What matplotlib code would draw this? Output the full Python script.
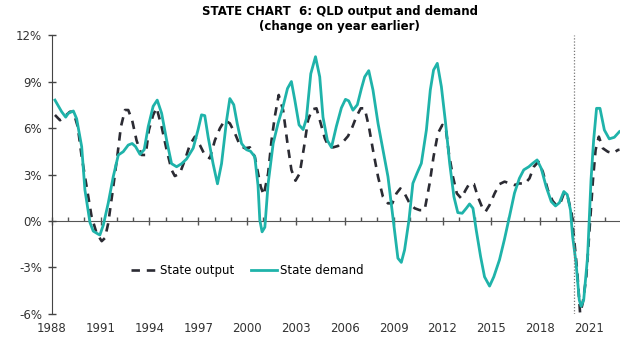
import matplotlib
matplotlib.use("Agg")
import matplotlib.pyplot as plt
import numpy as np

# QLD state final demand, % change on year earlier
demand_year = [1988.20, 1988.61, 1988.86, 1989.02, 1989.33, 1989.53, 1989.84, 1990.04, 1990.35, 1990.55,
               1990.86, 1990.96, 1991.17, 1991.47, 1991.78, 1992.09, 1992.39, 1992.70, 1992.94, 1993.15,
               1993.42, 1993.68, 1993.93, 1994.23, 1994.48, 1994.75, 1995.06, 1995.36, 1995.67, 1995.98,
               1996.28, 1996.69, 1996.99, 1997.20, 1997.40, 1997.61, 1997.91, 1998.18, 1998.43, 1998.74,
               1998.94, 1999.18, 1999.39, 1999.66, 1999.96, 2000.21, 2000.47, 2000.67, 2000.78, 2000.92,
               2001.09, 2001.29, 2001.60, 2001.90, 2002.21, 2002.48, 2002.72, 2002.93, 2003.19, 2003.44,
               2003.64, 2003.91, 2004.20, 2004.46, 2004.66, 2004.93, 2005.18, 2005.48, 2005.79, 2006.04,
               2006.24, 2006.50, 2006.77, 2007.02, 2007.22, 2007.47, 2007.73, 2008.04, 2008.34, 2008.65,
               2008.90, 2009.12, 2009.26, 2009.47, 2009.67, 2009.94, 2010.18, 2010.43, 2010.70, 2011.01,
               2011.25, 2011.45, 2011.68, 2011.93, 2012.19, 2012.44, 2012.70, 2012.94, 2013.21, 2013.46,
               2013.66, 2013.87, 2014.07, 2014.34, 2014.58, 2014.89, 2015.15, 2015.50, 2015.80, 2016.11,
               2016.42, 2016.72, 2016.99, 2017.30, 2017.54, 2017.81, 2018.06, 2018.37, 2018.68, 2018.94,
               2019.18, 2019.45, 2019.66, 2019.86, 2019.99, 2020.20, 2020.40, 2020.51, 2020.67, 2020.91,
               2021.12, 2021.28, 2021.46, 2021.67, 2021.94, 2022.24, 2022.55, 2022.86]
demand = [7.8, 7.05, 6.7, 6.95, 7.1, 6.6, 4.8, 2.0, -0.1, -0.65,
          -0.85, -0.9, -0.26, 1.15, 2.86, 4.26, 4.47, 4.9, 5.0, 4.8,
          4.3, 4.6, 6.1, 7.4, 7.8, 6.95, 5.2, 3.7, 3.5, 3.7,
          4.0, 4.7, 5.9, 6.85, 6.8, 5.4, 3.7, 2.4, 3.7, 6.5,
          7.9, 7.5, 6.3, 5.0, 4.6, 4.5, 4.15, 2.3, 0.06, -0.7,
          -0.4, 2.4, 5.0, 6.3, 7.4, 8.55, 9.0, 7.8, 6.2, 5.9,
          6.6, 9.5, 10.6, 9.3, 6.7, 5.2, 4.75, 6.1, 7.3, 7.85,
          7.75, 7.15, 7.5, 8.55, 9.3, 9.7, 8.45, 6.3, 4.6, 2.86,
          0.7, -1.2, -2.4, -2.67, -1.87, 0.06, 2.43, 3.07, 3.72, 5.87,
          8.45, 9.74, 10.17, 8.67, 6.3, 3.72, 1.57, 0.54, 0.5, 0.82,
          1.1, 0.82, -0.58, -2.3, -3.6, -4.2, -3.6, -2.5, -1.2, 0.28,
          1.8, 2.75, 3.3, 3.5, 3.72, 3.94, 3.4, 2.2, 1.25, 0.97,
          1.18, 1.9, 1.7, 0.7, -1.0, -2.7, -5.1, -5.5, -5.1, -2.3,
          2.65, 5.2, 7.27, 7.27, 5.87, 5.3, 5.4, 5.76]

# QLD gross state product, % change on year earlier
output_year = [1988.20, 1988.51, 1988.82, 1989.12, 1989.33, 1989.60, 1989.84, 1990.15, 1990.45, 1990.76,
               1991.07, 1991.27, 1991.47, 1991.78, 1992.05, 1992.25, 1992.50, 1992.70, 1992.94, 1993.21,
               1993.52, 1993.77, 1993.97, 1994.23, 1994.44, 1994.75, 1995.06, 1995.36, 1995.56, 1995.87,
               1996.18, 1996.48, 1996.79, 1997.10, 1997.40, 1997.71, 1998.02, 1998.33, 1998.63, 1998.94,
               1999.25, 1999.55, 1999.86, 2000.17, 2000.47, 2000.69, 2000.84, 2001.02, 2001.29, 2001.50,
               2001.70, 2001.94, 2002.21, 2002.48, 2002.72, 2002.97, 2003.23, 2003.50, 2003.74, 2003.99,
               2004.26, 2004.52, 2004.77, 2005.01, 2005.28, 2005.58, 2005.89, 2006.20, 2006.47, 2006.71,
               2006.98, 2007.22, 2007.48, 2007.73, 2008.04, 2008.34, 2008.65, 2008.92, 2009.17, 2009.41,
               2009.67, 2009.98, 2010.29, 2010.60, 2010.90, 2011.21, 2011.45, 2011.72, 2011.99, 2012.19,
               2012.39, 2012.64, 2012.88, 2013.15, 2013.42, 2013.66, 2013.93, 2014.17, 2014.42, 2014.64,
               2014.89, 2015.20, 2015.50, 2015.81, 2016.12, 2016.42, 2016.73, 2017.04, 2017.34, 2017.61,
               2017.89, 2018.16, 2018.47, 2018.76, 2019.00, 2019.25, 2019.46, 2019.68, 2019.93, 2020.27,
               2020.45, 2020.61, 2020.83, 2021.03, 2021.24, 2021.40, 2021.60, 2021.85, 2022.15, 2022.46,
               2022.77, 2022.87]
output = [6.84, 6.5, 6.77, 7.05, 7.05, 6.08, 4.15, 2.2, 0.28, -0.8,
          -1.3, -1.1, -0.15, 2.2, 4.37, 6.08, 7.16, 7.16, 6.5, 5.2,
          4.26, 4.26, 5.87, 6.84, 7.3, 6.08, 4.58, 3.3, 2.9, 3.07,
          3.94, 4.9, 5.44, 4.9, 4.26, 4.04, 5.2, 5.98, 6.5, 6.3,
          5.66, 4.9, 4.69, 4.75, 4.15, 3.0, 2.2, 1.68, 3.07, 5.2,
          6.73, 8.13, 7.16, 5.0, 3.3, 2.6, 3.07, 4.8, 6.5, 7.2,
          7.27, 6.3, 5.34, 4.8, 4.75, 4.84, 5.1, 5.48, 6.08, 6.73,
          7.27, 7.27, 6.08, 4.58, 2.86, 1.57, 1.14, 1.14, 1.78, 2.1,
          1.78, 1.14, 0.82, 0.7, 0.7, 2.43, 4.15, 5.66, 6.2, 6.08,
          4.37, 2.86, 1.78, 1.46, 2.0, 2.43, 2.38, 1.57, 0.92, 0.6,
          1.03, 1.78, 2.38, 2.54, 2.43, 2.32, 2.43, 2.38, 2.75, 3.5,
          3.83, 3.18, 2.0, 1.3, 1.0, 1.2, 1.8, 1.6, 0.5, -3.2,
          -5.96, -5.3, -3.6, -0.6, 2.65, 4.58, 5.44, 4.69, 4.47, 4.37,
          4.58, 4.6]

year_ticks = np.arange(1988, 2022, 3)
pct_ticks = [-6, -3, 0, 3, 6, 9, 12]
covid_line = 2020.1

fig = plt.figure(figsize=(6.2, 3.49), dpi=100)
ax = fig.add_axes([0.0834, 0.1003, 0.9166, 0.7994])

ax.plot(output_year, output, color='#2b2b33', lw=1.9, dashes=(3.2, 2.6), label='State output')
ax.plot(demand_year, demand, color='#1fb3aa', lw=2, label='State demand')
ax.axvline(covid_line, color='#777777', lw=0.9, ls=(0, (1, 1.5)))

ax.set_xlim(1988, 2022.9)
ax.set_ylim(-6, 12)
ax.set_yticks(pct_ticks)
ax.set_yticklabels([f'{v}%' for v in pct_ticks], fontsize=8.5, color='#333333')
ax.tick_params(axis='y', direction='inout', length=6, width=1, color='#444444', pad=4)

ax.set_xticks(year_ticks)
ax.set_xticklabels([str(y) for y in year_ticks], fontsize=8.5, color='#333333')
ax.tick_params(axis='x', length=0, pad=6)

for s in ['top', 'right', 'bottom']:
    ax.spines[s].set_visible(False)
ax.spines['left'].set_color('#444444')

# zero line carrying the year ticks
zero_ax = ax.secondary_xaxis(1 / 3)
zero_ax.set_xticks(year_ticks)
zero_ax.set_xticks(np.arange(1989, 2023, 1), minor=True)
zero_ax.set_xticklabels([])
zero_ax.tick_params(which='major', direction='inout', length=6, width=1, color='#555555')
zero_ax.tick_params(which='minor', direction='in', length=3, width=1, color='#555555')
zero_ax.spines['bottom'].set_color('#555555')

ax.legend(loc='lower left', bbox_to_anchor=(0.12, 0.095), ncol=2, frameon=False,
          fontsize=8.5, handlelength=2.2, columnspacing=1.4, handletextpad=0.3)

fig.text(0.548, 0.985, 'STATE CHART  6: QLD output and demand\n(change on year earlier)',
         ha='center', va='top', fontsize=8.5, fontweight='bold', linespacing=1.15)

fig.savefig('out.png', dpi=100)
